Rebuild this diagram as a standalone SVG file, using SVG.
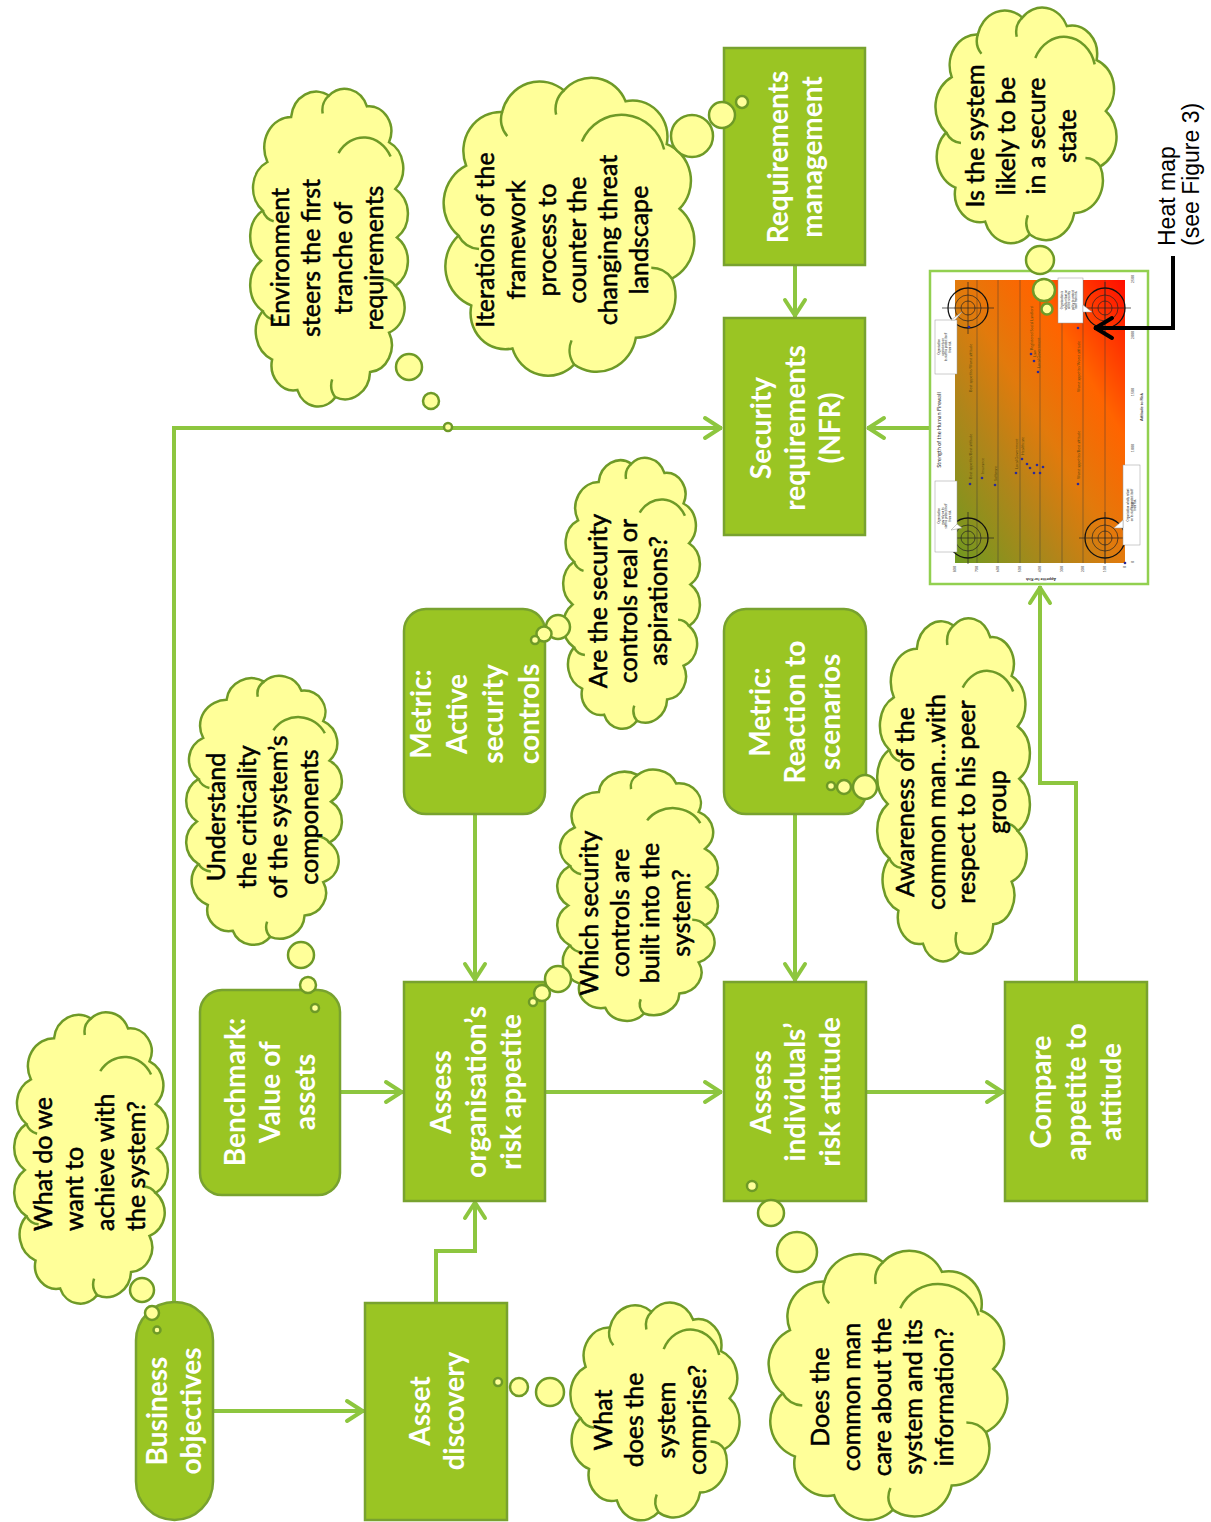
<svg xmlns="http://www.w3.org/2000/svg" width="1211" height="1522" viewBox="0 0 1211 1522">
<defs>
<style>
.nd{fill:#9AC523;stroke:#78A22F;stroke-width:2.5}
.nt{font-family:Lato,"Open Sans",sans-serif;font-weight:700;font-size:28px;fill:#fff;text-anchor:middle}
.ct{font-family:Lato,"Open Sans",sans-serif;font-size:25px;fill:#000;stroke:#000;stroke-width:0.55px;text-anchor:middle}
.cl{fill:#FFFF99;stroke:#6E9A27;stroke-width:2.5;vector-effect:non-scaling-stroke}
.ci{fill:none;stroke:#6E9A27;stroke-width:2.5;vector-effect:non-scaling-stroke}
.bb{fill:#FFFF99;stroke:#6E9A27;stroke-width:2.5}
.cn{fill:none;stroke:#8DC63F;stroke-width:4;marker-end:url(#ag)}
.gl{stroke:#3a3a3a;stroke-width:0.6;opacity:0.75}
.tk{font-family:Lato,sans-serif;font-size:3.6px;fill:#444}
.lb{font-family:Lato,sans-serif;font-size:3.8px;fill:#5a4a10}
.co{fill:#fff;stroke:#999;stroke-width:0.5}
.cot{font-family:Lato,sans-serif;font-size:2.8px;fill:#222;text-anchor:middle}
.dt{fill:#2a2a9a}
.hm{font-family:"Liberation Sans",Arial,sans-serif;font-size:23px;fill:#000}
</style>
<marker id="ag" markerUnits="userSpaceOnUse" viewBox="-20 -13 22 26" markerWidth="22" markerHeight="26" refX="0" refY="0" orient="auto" overflow="visible">
<path d="M -17 -10 L -1.5 0 L -17 10" fill="none" stroke="#8DC63F" stroke-width="4" stroke-linecap="round" stroke-linejoin="round"/>
</marker>
<marker id="ab" markerUnits="userSpaceOnUse" viewBox="-20 -13 22 26" markerWidth="22" markerHeight="26" refX="0" refY="0" orient="auto" overflow="visible">
<path d="M -18 -10 L -1.5 0 L -18 10" fill="none" stroke="#000" stroke-width="4" stroke-linecap="round" stroke-linejoin="round"/>
</marker>
<symbol id="cloudT" viewBox="0 1 100 181" preserveAspectRatio="none" overflow="visible">
<path class="cl" d="M 50 8 A 15 15 0 0 1 74 14 A 14 14 0 0 1 88 34 A 16 16 0 0 1 92 60 A 16 16 0 0 1 93 87 A 16 16 0 0 1 92 114 A 15 15 0 0 1 88 140 A 15 15 0 0 1 76 162 A 16 16 0 0 1 54 176 A 14 14 0 0 1 30 172 A 14 14 0 0 1 14 155 A 17 17 0 0 1 8 128 A 17 17 0 0 1 7 100 A 17 17 0 0 1 8 72 A 16 16 0 0 1 11 45 A 17 17 0 0 1 26 20 A 16 16 0 0 1 50 8 Z"/>
<path class="ci" d="M 56 40 A 19 19 0 0 1 89 42 M 50 8 A 10 10 0 0 0 46 18 M 8 128 A 10 10 0 0 0 16 133 M 54 176 A 10 10 0 0 1 52 166 M 92 114 A 10 10 0 0 0 84 110 M 8 72 A 10 10 0 0 0 15 78"/>
</symbol>
<symbol id="cloudS" viewBox="1 3 98 112" preserveAspectRatio="none" overflow="visible">
<path class="cl" d="M 48 8 A 14.5 14.5 0 0 1 72 12 A 13.5 13.5 0 0 1 88 28 A 14.5 14.5 0 0 1 93 52 A 15.5 15.5 0 0 1 90 78 A 15.5 15.5 0 0 1 76 100 A 15.5 15.5 0 0 1 52 110 A 14.5 14.5 0 0 1 28 104 A 13.5 13.5 0 0 1 12 88 A 15.5 15.5 0 0 1 7 62 A 15.5 15.5 0 0 1 10 36 A 14.5 14.5 0 0 1 24 16 A 15 15 0 0 1 48 8 Z"/>
<path class="ci" d="M 55 27 A 17 17 0 0 1 87 30 M 48 8 A 9 9 0 0 0 45 17 M 7 62 A 10 10 0 0 0 15 67 M 52 110 A 9 9 0 0 1 51 101 M 90 78 A 10 10 0 0 0 82 74 M 24 16 A 9 9 0 0 0 26 25"/>
</symbol>
<linearGradient id="heat" x1="0" y1="1" x2="1" y2="0">
<stop offset="0" stop-color="#6F9A20"/>
<stop offset="0.3" stop-color="#B0851A"/>
<stop offset="0.5" stop-color="#E27A0C"/>
<stop offset="0.72" stop-color="#FF6400"/>
<stop offset="1" stop-color="#FF0D00"/>
</linearGradient>
<g id="tg">
<circle r="20" fill="none" stroke="#111" stroke-width="1.3"/>
<circle r="13" fill="none" stroke="#222" stroke-width="0.7"/>
<circle r="7" fill="none" stroke="#222" stroke-width="0.7"/>
<path d="M -26 0 H 26 M 0 -26 V 26" stroke="#222" stroke-width="0.7"/>
</g>
</defs>
<rect width="1211" height="1522" fill="#fff"/>

<g id="connectors">
<path class="cn" d="M174 1302 V428 H722"/>
<path class="cn" d="M213 1411 H364"/>
<path class="cn" d="M436 1302 V1251 H475 V1201"/>
<path class="cn" d="M341 1092 H403"/>
<path class="cn" d="M475 815 V981"/>
<path class="cn" d="M546 1092 H722"/>
<path class="cn" d="M795 815 V981"/>
<path class="cn" d="M867 1092 H1004"/>
<path class="cn" d="M1076 982 V783 H1040 V586"/>
<path class="cn" d="M930 428 H867"/>
<path class="cn" d="M795 266 V317"/>
</g>

<g id="heatmap">
<rect x="930" y="271" width="218" height="313" fill="#fff" stroke="#92D050" stroke-width="2.5"/>
<rect x="955" y="280" width="170" height="283" fill="url(#heat)"/>
<path class="gl" d="M977 280V563M998 280V563M1020 280V563M1040 280V563M1062 280V563M1083 280V563M1105 280V563"/>
<use href="#tg" x="968" y="308"/>
<use href="#tg" x="968" y="538"/>
<use href="#tg" x="1105" y="308"/>
<use href="#tg" x="1105" y="538"/>
<g>
<rect class="co" x="935" y="320" width="22" height="54"/>
<path class="co" d="M951 320 L962 312 L955 320 Z"/>
<text class="cot" transform="translate(946,347) rotate(-90)"><tspan x="0" y="-6">Organisation</tspan><tspan x="0" y="-2.5">cannot rely on</tspan><tspan x="0" y="1">its staff to protect itself</tspan><tspan x="0" y="4.5">from risk</tspan></text>
<rect class="co" x="935" y="481" width="22" height="71"/>
<path class="co" d="M951 530 L962 528 L957 524 Z"/>
<text class="cot" transform="translate(946,516) rotate(-90)"><tspan x="0" y="-6">Organisation</tspan><tspan x="0" y="-2.5">may rely on its</tspan><tspan x="0" y="1">staff to protect itself</tspan><tspan x="0" y="4.5">from risk</tspan></text>
<rect class="co" x="1058" y="278" width="25" height="45"/>
<path class="co" d="M1083 305 L1092 312 L1083 312 Z"/>
<text class="cot" transform="translate(1070.5,300) rotate(-90)"><tspan x="0" y="-7.5">Organisation is</tspan><tspan x="0" y="-4">wholly reliant on</tspan><tspan x="0" y="-0.5">all the security</tspan><tspan x="0" y="3">policy to protect</tspan><tspan x="0" y="6.5">itself from risk</tspan></text>
<rect class="co" x="1123" y="465" width="17" height="80"/>
<path class="co" d="M1123 520 L1114 528 L1123 528 Z"/>
<text class="cot" transform="translate(1131.5,505) rotate(-90)"><tspan x="0" y="-2.5">Organisation wholly reliant</tspan><tspan x="0" y="1">on its staff to protect itself</tspan><tspan x="0" y="4.5">from risk</tspan></text>
</g>
<g>
<circle class="dt" cx="970" cy="484" r="1.3"/>
<circle class="dt" cx="969" cy="327" r="1.3"/>
<circle class="dt" cx="1078" cy="484" r="1.3"/>
<circle class="dt" cx="1078" cy="328" r="1.3"/>
<circle class="dt" cx="982" cy="478" r="1.3"/>
<circle class="dt" cx="995" cy="485" r="1.3"/>
<circle class="dt" cx="1016" cy="473" r="1.3"/>
<circle class="dt" cx="1022" cy="459" r="1.3"/>
<circle class="dt" cx="1027" cy="464" r="1.3"/>
<circle class="dt" cx="1030" cy="468" r="1.3"/>
<circle class="dt" cx="1034" cy="473" r="1.3"/>
<circle class="dt" cx="1037" cy="465" r="1.3"/>
<circle class="dt" cx="1040" cy="473" r="1.3"/>
<circle class="dt" cx="1043" cy="467" r="1.3"/>
<circle class="dt" cx="1031" cy="354" r="1.3"/>
<circle class="dt" cx="1034" cy="361" r="1.3"/>
<circle class="dt" cx="1038" cy="372" r="1.3"/>
<circle class="dt" cx="1125" cy="563" r="1.3"/>
<text class="lb" transform="translate(971.5,479) rotate(-90)">Best appetite/Best attitude</text>
<text class="lb" transform="translate(971.5,392) rotate(-90)">Best appetite/Worst attitude</text>
<text class="lb" transform="translate(1079.5,479) rotate(-90)">Worst appetite/Best attitude</text>
<text class="lb" transform="translate(1079.5,392) rotate(-90)">Worst appetite/Worst attitude</text>
<text class="lb" transform="translate(983.5,474) rotate(-90)">Insurance</text>
<text class="lb" transform="translate(996.5,481) rotate(-90)">Software</text>
<text class="lb" transform="translate(1017.5,469) rotate(-90)">Local Government</text>
<text class="lb" transform="translate(1023.5,455) rotate(-90)">Healthcare</text>
<text class="lb" transform="translate(1032.5,350) rotate(-90)">Registered Social Landlord</text>
<text class="lb" transform="translate(1035.5,357) rotate(-90)">Law</text>
<text class="lb" transform="translate(1039.5,368) rotate(-90)">Local Government</text>
</g>
<text transform="translate(941,430) rotate(-90)" font-family="Lato,sans-serif" font-size="5.5" fill="#222" text-anchor="middle">Strength of the Human Firewall</text>
<text transform="translate(1143,407) rotate(-90)" font-family="Lato,sans-serif" font-size="4" font-weight="700" fill="#333" text-anchor="middle">Attitude to Risk</text>
<text transform="translate(1041,578) rotate(180)" font-family="Lato,sans-serif" font-size="4" font-weight="700" fill="#333" text-anchor="middle">Appetite for Risk</text>
<g class="tk" text-anchor="end">
<text transform="translate(956.3,566) rotate(-90)">800</text>
<text transform="translate(978.3,566) rotate(-90)">700</text>
<text transform="translate(999.3,566) rotate(-90)">600</text>
<text transform="translate(1021.3,566) rotate(-90)">500</text>
<text transform="translate(1041.3,566) rotate(-90)">400</text>
<text transform="translate(1063.3,566) rotate(-90)">300</text>
<text transform="translate(1084.3,566) rotate(-90)">200</text>
<text transform="translate(1106.3,566) rotate(-90)">100</text>
<text transform="translate(1126.3,566) rotate(-90)">0</text>
</g>
<g class="tk" text-anchor="middle">
<text transform="translate(1134,562) rotate(-90)">0</text>
<text transform="translate(1134,505) rotate(-90)">500</text>
<text transform="translate(1134,448) rotate(-90)">1000</text>
<text transform="translate(1134,392) rotate(-90)">1500</text>
<text transform="translate(1134,335) rotate(-90)">2000</text>
<text transform="translate(1134,279) rotate(-90)">2500</text>
</g>
</g>

<g id="label-heat-map">
<path d="M1173 256 V328 H1094" fill="none" stroke="#000" stroke-width="4" marker-end="url(#ab)"/>
<text class="hm" transform="translate(1175,246) rotate(-90)">Heat map</text>
<text class="hm" transform="translate(1199,246) rotate(-90)">(see Figure 3)</text>
</g>

<g id="node-business-objectives">
<rect class="nd" x="136" y="1302" width="77" height="218" rx="38.5"/>
<text class="nt" transform="translate(174,1411) rotate(-90)"><tspan x="0" y="-7">Business</tspan><tspan x="0" y="27">objectives</tspan></text>
</g>
<g id="node-asset-discovery">
<rect class="nd" x="365" y="1303" width="142" height="217"/>
<text class="nt" transform="translate(437,1411) rotate(-90)"><tspan x="0" y="-7">Asset</tspan><tspan x="0" y="27">discovery</tspan></text>
</g>
<g id="node-benchmark">
<rect class="nd" x="200" y="990" width="140" height="205" rx="22"/>
<text class="nt" transform="translate(270,1092) rotate(-90)"><tspan x="0" y="-25">Benchmark:</tspan><tspan x="0" y="10">Value of</tspan><tspan x="0" y="45">assets</tspan></text>
</g>
<g id="node-assess-appetite">
<rect class="nd" x="404" y="982" width="141" height="219"/>
<text class="nt" transform="translate(476,1092) rotate(-90)"><tspan x="0" y="-25">Assess</tspan><tspan x="0" y="10">organisation’s</tspan><tspan x="0" y="45">risk appetite</tspan></text>
</g>
<g id="node-metric-active">
<rect class="nd" x="404" y="609" width="141" height="205" rx="22"/>
<text class="nt" transform="translate(475,714) rotate(-90)"><tspan x="0" y="-44">Metric:</tspan><tspan x="0" y="-8">Active</tspan><tspan x="0" y="28">security</tspan><tspan x="0" y="64">controls</tspan></text>
</g>
<g id="node-assess-attitude">
<rect class="nd" x="724" y="982" width="142" height="219"/>
<text class="nt" transform="translate(795,1092) rotate(-90)"><tspan x="0" y="-24.5">Assess</tspan><tspan x="0" y="10">individuals’</tspan><tspan x="0" y="44.5">risk attitude</tspan></text>
</g>
<g id="node-metric-reaction">
<rect class="nd" x="724" y="609" width="142" height="205" rx="22"/>
<text class="nt" transform="translate(795,712) rotate(-90)"><tspan x="0" y="-25">Metric:</tspan><tspan x="0" y="10">Reaction to</tspan><tspan x="0" y="45">scenarios</tspan></text>
</g>
<g id="node-compare">
<rect class="nd" x="1005" y="982" width="142" height="219"/>
<text class="nt" transform="translate(1076,1092) rotate(-90)"><tspan x="0" y="-25">Compare</tspan><tspan x="0" y="10">appetite to</tspan><tspan x="0" y="45">attitude</tspan></text>
</g>
<g id="node-security-requirements">
<rect class="nd" x="724" y="318" width="141" height="217"/>
<text class="nt" transform="translate(795,428) rotate(-90)"><tspan x="0" y="-24.5">Security</tspan><tspan x="0" y="10">requirements</tspan><tspan x="0" y="44.5">(NFR)</tspan></text>
</g>
<g id="node-requirements-management">
<rect class="nd" x="724" y="48" width="141" height="217"/>
<text class="nt" transform="translate(795,157) rotate(-90)"><tspan x="0" y="-7">Requirements</tspan><tspan x="0" y="27">management</tspan></text>
</g>

<g id="cloud-what-achieve">
<use href="#cloudT" x="14" y="1007" width="154" height="298"/>
<circle class="bb" cx="142" cy="1290" r="12"/>
<circle class="bb" cx="152" cy="1313" r="7"/>
<circle class="bb" cx="157" cy="1330" r="3.5"/>
<text class="ct" style="text-anchor:start" transform="translate(89,1231) rotate(-90)"><tspan x="0" y="-37.5">What do we</tspan><tspan x="0" y="-6.5">want to</tspan><tspan x="0" y="24.5">achieve with</tspan><tspan x="0" y="55.5">the system?</tspan></text>
</g>
<g id="cloud-environment">
<use href="#cloudT" x="250" y="83" width="158" height="325"/>
<circle class="bb" cx="409" cy="367" r="13"/>
<circle class="bb" cx="431" cy="401" r="8"/>
<circle class="bb" cx="448" cy="427" r="4"/>
<text class="ct" transform="translate(327,258) rotate(-90)"><tspan x="0" y="-38.25">Environment</tspan><tspan x="0" y="-6.75">steers the first</tspan><tspan x="0" y="24.75">tranche of</tspan><tspan x="0" y="56.25">requirements</tspan></text>
</g>
<g id="cloud-iterations">
<use href="#cloudS" x="443" y="77" width="252" height="301"/>
<circle class="bb" cx="692" cy="136" r="21"/>
<circle class="bb" cx="722" cy="115" r="13"/>
<circle class="bb" cx="742" cy="102" r="6"/>
<text class="ct" transform="translate(562,240) rotate(-90)"><tspan x="0" y="-67.75">Iterations of the</tspan><tspan x="0" y="-37.05">framework</tspan><tspan x="0" y="-6.35">process to</tspan><tspan x="0" y="24.35">counter the</tspan><tspan x="0" y="55.05">changing threat</tspan><tspan x="0" y="85.75">landscape</tspan></text>
</g>
<g id="cloud-secure-state">
<use href="#cloudS" x="935" y="7" width="182" height="238"/>
<circle class="bb" cx="1040" cy="260" r="14"/>
<circle class="bb" cx="1044" cy="290" r="11"/>
<circle class="bb" cx="1047" cy="309" r="5.5"/>
<text class="ct" transform="translate(1021,136) rotate(-90)"><tspan x="0" y="-36.75">Is the system</tspan><tspan x="0" y="-6.25">likely to be</tspan><tspan x="0" y="24.25">in a secure</tspan><tspan x="0" y="54.75">state</tspan></text>
</g>
<g id="cloud-criticality">
<use href="#cloudT" x="186" y="671" width="156" height="275"/>
<circle class="bb" cx="301" cy="955" r="13"/>
<circle class="bb" cx="308" cy="985" r="8"/>
<circle class="bb" cx="315" cy="1008" r="4"/>
<text class="ct" transform="translate(262,817) rotate(-90)"><tspan x="0" y="-37.5">Understand</tspan><tspan x="0" y="-6.5">the criticality</tspan><tspan x="0" y="24.5">of the system’s</tspan><tspan x="0" y="55.5">components</tspan></text>
</g>
<g id="cloud-real-aspirations">
<use href="#cloudT" x="563" y="453" width="137" height="277"/>
<circle class="bb" cx="558" cy="627" r="12"/>
<circle class="bb" cx="544" cy="634" r="7.5"/>
<circle class="bb" cx="535" cy="640" r="4"/>
<text class="ct" transform="translate(628,601) rotate(-90)"><tspan x="0" y="-21">Are the security</tspan><tspan x="0" y="9">controls real or</tspan><tspan x="0" y="39">aspirations?</tspan></text>
</g>
<g id="cloud-built-in">
<use href="#cloudT" x="557" y="765" width="161" height="257"/>
<circle class="bb" cx="558" cy="979" r="13"/>
<circle class="bb" cx="542" cy="993" r="8"/>
<circle class="bb" cx="533" cy="1002" r="4"/>
<text class="ct" transform="translate(635,913) rotate(-90)"><tspan x="0" y="-37">Which security</tspan><tspan x="0" y="-6.3">controls are</tspan><tspan x="0" y="24.4">built into the</tspan><tspan x="0" y="55">system?</tspan></text>
</g>
<g id="cloud-awareness">
<use href="#cloudT" x="877" y="612" width="153" height="351"/>
<circle class="bb" cx="865" cy="787" r="12"/>
<circle class="bb" cx="844" cy="787" r="7"/>
<circle class="bb" cx="831" cy="786" r="4"/>
<text class="ct" transform="translate(951,802) rotate(-90)"><tspan x="0" y="-37">Awareness of the</tspan><tspan x="0" y="-6.3">common man…with</tspan><tspan x="0" y="24.4">respect to his peer</tspan><tspan x="0" y="55">group</tspan></text>
</g>
<g id="cloud-comprise">
<use href="#cloudS" x="570" y="1302" width="170" height="220"/>
<circle class="bb" cx="550" cy="1392" r="14"/>
<circle class="bb" cx="519" cy="1387" r="9"/>
<circle class="bb" cx="498" cy="1382" r="4"/>
<text class="ct" transform="translate(650,1420) rotate(-90)"><tspan x="0" y="-38.25">What</tspan><tspan x="0" y="-6.75">does the</tspan><tspan x="0" y="24.75">system</tspan><tspan x="0" y="56.25">comprise?</tspan></text>
</g>
<g id="cloud-common-man">
<use href="#cloudS" x="768" y="1250" width="240" height="272"/>
<circle class="bb" cx="797" cy="1252" r="20"/>
<circle class="bb" cx="771" cy="1213" r="13"/>
<circle class="bb" cx="752" cy="1186" r="5"/>
<text class="ct" transform="translate(882,1397) rotate(-90)"><tspan x="0" y="-53">Does the</tspan><tspan x="0" y="-22">common man</tspan><tspan x="0" y="9">care about the</tspan><tspan x="0" y="40">system and its</tspan><tspan x="0" y="71">information?</tspan></text>
</g>
</svg>
